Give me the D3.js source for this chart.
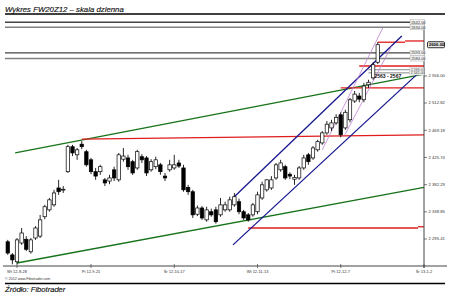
<!DOCTYPE html>
<html>
<head>
<meta charset="utf-8">
<script src="https://cdn.jsdelivr.net/npm/d3@7"></script>
<style>
  body { margin: 0; background: #fff; }
  svg { display: block; font-family: "Liberation Sans", Arial, sans-serif; }
</style>
</head>
<body>
<svg width="450" height="293"></svg>
<script>
// daily candles
const opens  = [2291,2270,2259,2289,2295,2275,2297,2300,2331,2342,2350,2377,2374,2403,2443,2430,2447,2435,2422,2403,
                2403,2390,2388,2406,2390,2423,2425,2419,2409,2427,2425,2406,2411,2414,2396,2406,2409,2417,2409,2378,
                2371,2335,2345,2326,2339,2342,2334,2342,2342,2350,2355,2339,2334,2334,2339,2361,2374,2377,2393,2406,
                2411,2399,2391,2393,2409,2430,2425,2438,2449,2465,2473,2481,2494,2473,2486,2516,2524,2518,2542,2553,2578];
const highs  = [2294,2273,2297,2313,2300,2297,2316,2334,2350,2361,2374,2390,2380,2446,2446,2441,2452,2438,2425,2409,
                2414,2393,2398,2411,2433,2441,2430,2422,2438,2431,2428,2423,2427,2417,2401,2422,2430,2422,2414,2382,
                2374,2349,2348,2347,2344,2347,2361,2355,2363,2369,2360,2342,2337,2353,2371,2387,2391,2396,2417,2422,
                2414,2402,2398,2412,2430,2433,2444,2454,2468,2484,2486,2495,2498,2502,2521,2532,2529,2545,2550,2578,2610];
const lows   = [2270,2255,2255,2286,2276,2272,2294,2297,2327,2339,2347,2366,2369,2401,2428,2422,2439,2411,2399,2390,
                2398,2380,2383,2388,2387,2419,2406,2398,2406,2417,2396,2403,2407,2398,2388,2403,2406,2409,2371,2366,
                2329,2332,2326,2323,2331,2320,2331,2339,2339,2347,2335,2326,2323,2331,2335,2358,2371,2374,2390,2403,
                2390,2391,2382,2390,2406,2414,2422,2435,2446,2462,2468,2478,2458,2470,2482,2513,2514,2514,2537,2550,2575];
const closes = [2273,2262,2294,2305,2279,2294,2313,2326,2347,2358,2369,2371,2375,2443,2433,2438,2443,2414,2403,2396,
                2411,2385,2393,2393,2430,2428,2411,2401,2435,2422,2401,2419,2422,2403,2393,2414,2414,2412,2374,2371,
                2334,2345,2329,2342,2334,2323,2350,2350,2358,2363,2339,2329,2326,2350,2366,2382,2390,2390,2414,2417,
                2393,2396,2394,2409,2425,2419,2441,2451,2465,2479,2481,2490,2462,2498,2518,2527,2519,2540,2546,2574,2606];

const yTicks = [2556.00, 2512.82, 2469.18, 2425.74, 2382.29, 2338.85, 2295.41];
const xTickIdx = [2, 18, 36, 54, 72, 90];
const xTickLabels = ["Wt 12-8-28", "Pt 12-9-21", "Śr 12-10-17", "Wt 12-11-13", "Pt 12-12-7", "Śr 13-1-2"];

// horizontal levels drawn across the whole chart (grey pairs)
const greyLevels = [2642, 2634, 2593, 2584];
const greyLabels = ["2642.00", "2634.00", "2593.00", "2584.00"];

// red support / resistance segments: [fromIdx, fromValue, toIdx, toValue]
const redLines = [
  [80, 2610, 85.9, 2610], [85.9, 2612, 90, 2612],
  [76, 2572, 90, 2572],
  [72, 2537, 90, 2537],
  [16, 2455, 90, 2462],
  [52, 2313, 88.7, 2313], [88.7, 2315, 90, 2315]
];
const greenLines = [[1.6, 2433, 90, 2559], [2, 2257, 90, 2378]];
const blueLines  = [[48.7, 2361, 85.2, 2620], [48.7, 2286, 90, 2569]];
const purpleLines = [[68, 2438, 81.1, 2633], [72.9, 2462, 83, 2604]];
const fiboLevels = [2566, 2561];
const fiboLabels = ["2 566.00", "2 561.00"];
const lastLabel = "2606.00";

const svg = d3.select("svg");

const x = d3.scaleLinear().domain([0, 90]).range([7.75, 424]);
const y = d3.scaleLinear().domain([2295.41, 2556]).range([239, 76]);

// title + frame lines
svg.append("text")
  .attr("x", 5).attr("y", 11.5)
  .attr("font-size", 7.8).attr("font-style", "italic").attr("fill", "#111")
  .attr("stroke", "#111").attr("stroke-width", 0.15)
  .text("Wykres FW20Z12 – skala dzienna");
svg.append("line").attr("x1", 5).attr("x2", 445).attr("y1", 14).attr("y2", 14)
  .attr("stroke", "#000").attr("stroke-width", 1.5);
svg.append("line").attr("x1", 5).attr("x2", 445).attr("y1", 283.5).attr("y2", 283.5)
  .attr("stroke", "#000").attr("stroke-width", 1.5);
svg.append("text")
  .attr("x", 5).attr("y", 279.5)
  .attr("font-size", 3.6).attr("fill", "#333")
  .text("© 2012 www.Fibotrader.com");
svg.append("text")
  .attr("x", 5).attr("y", 291.5)
  .attr("font-size", 7.6).attr("font-style", "italic").attr("fill", "#111")
  .attr("stroke", "#111").attr("stroke-width", 0.15)
  .text("Źródło: Fibotrader");

const g = svg.append("g");

// grey horizontal levels
g.selectAll("line.grey").data(greyLevels).enter().append("line")
  .attr("x1", x(-0.6)).attr("x2", x(87))
  .attr("y1", d => y(d)).attr("y2", d => y(d))
  .attr("stroke", (d, i) => i % 2 === 0 ? "#444" : "#808080")
  .attr("stroke-width", 1.4);

const seg = (sel, data, color, w) => sel.selectAll(null).data(data).enter().append("line")
  .attr("x1", d => x(d[0])).attr("y1", d => y(d[1]))
  .attr("x2", d => x(d[2])).attr("y2", d => y(d[3]))
  .attr("stroke", color).attr("stroke-width", w);

seg(g, greenLines, "#17731a", 1.35);
seg(g, redLines, "#e01c1c", 1.3);

// small fibo levels near the end
g.selectAll("line.fibo").data(fiboLevels).enter().append("line")
  .attr("x1", x(78)).attr("x2", x(90))
  .attr("y1", d => y(d)).attr("y2", d => y(d))
  .attr("stroke", "#555").attr("stroke-width", 0.7);

seg(g, blueLines, "#18188f", 1.3);
seg(g, purpleLines, "#c080d4", 0.8);

// candles
const idx = d3.range(opens.length);
const bw = 3.4;
const candle = g.selectAll("g.candle").data(idx).enter().append("g");
candle.append("line")
  .attr("x1", i => x(i)).attr("x2", i => x(i))
  .attr("y1", i => y(highs[i])).attr("y2", i => y(lows[i]))
  .attr("stroke", "#000").attr("stroke-width", 0.85);
candle.append("rect")
  .attr("x", i => x(i) - bw / 2)
  .attr("width", bw)
  .attr("y", i => y(Math.max(opens[i], closes[i])))
  .attr("height", i => Math.max(0.9, Math.abs(y(opens[i]) - y(closes[i]))))
  .attr("fill", i => closes[i] >= opens[i] ? "#fff" : "#000")
  .attr("stroke", "#000").attr("stroke-width", 0.7);

// annotation
g.append("text")
  .attr("x", x(79.3)).attr("y", y(2555) + 1.5)
  .attr("font-size", 5).attr("font-weight", "bold").attr("fill", "#111")
  .text("2563 - 2567");

// axes
const axisY = svg.append("g").attr("transform", `translate(${x(90)},0)`);
axisY.append("line").attr("y1", 20).attr("y2", 268).attr("stroke", "#444").attr("stroke-width", 1);
axisY.selectAll("g.t").data(yTicks).enter().append("g")
  .attr("transform", d => `translate(0,${y(d)})`)
  .each(function(d) {
    const t = d3.select(this);
    t.append("line").attr("x2", 3).attr("stroke", "#444").attr("stroke-width", 0.7);
    t.append("text").attr("x", 4.5).attr("dy", "0.35em")
      .attr("font-size", 4.2).attr("fill", "#333")
      .text(d3.format(",.2f")(d).replace(",", " "));
  });

const axisX = svg.append("g").attr("transform", "translate(0,266)");
axisX.append("line").attr("x1", 3).attr("x2", 447).attr("stroke", "#444").attr("stroke-width", 1);
axisX.selectAll("g.t").data(xTickIdx).enter().append("g")
  .attr("transform", d => `translate(${x(d)},0)`)
  .each(function(d, i) {
    const t = d3.select(this);
    t.append("line").attr("y1", -2).attr("y2", 2).attr("stroke", "#444").attr("stroke-width", 0.7);
    t.append("text").attr("y", 6.5).attr("text-anchor", "middle")
      .attr("font-size", 4).attr("fill", "#333")
      .text(xTickLabels[i]);
  });

// level labels
const lab = svg.selectAll("g.lab").data(greyLevels).enter().append("g")
  .attr("transform", d => `translate(${x(87)},${y(d)})`);
lab.append("rect").attr("x", 0).attr("y", -2.6).attr("width", 14.5).attr("height", 5.2)
  .attr("fill", "#f2f2f2").attr("stroke", "#aaa").attr("stroke-width", 0.4);
lab.append("text").attr("x", 1).attr("dy", "0.35em")
  .attr("font-size", 4).attr("fill", "#333")
  .text((d, i) => greyLabels[i]);

const flab = svg.selectAll("g.flab").data(fiboLevels).enter().append("g")
  .attr("transform", d => `translate(${x(86.9)},${y(d)})`);
flab.append("rect").attr("x", 0).attr("y", -2.2).attr("width", 14.5).attr("height", 4.4)
  .attr("fill", "#eee").attr("stroke", "#bbb").attr("stroke-width", 0.3);
flab.append("text").attr("x", 1).attr("dy", "0.35em")
  .attr("font-size", 3.6).attr("fill", "#444")
  .text((d, i) => fiboLabels[i]);

const last = svg.append("g")
  .attr("transform", `translate(${x(90) + 3.5},${y(closes[closes.length - 1])})`);
last.append("rect").attr("x", 0).attr("y", -3).attr("width", 17).attr("height", 6).attr("rx", 1)
  .attr("fill", "#e8e8e8").attr("stroke", "#000").attr("stroke-width", 0.8);
last.append("text").attr("x", 1.2).attr("dy", "0.35em")
  .attr("font-size", 4.4).attr("font-weight", "bold").attr("fill", "#000")
  .text(lastLabel);
</script>
</body>
</html>
